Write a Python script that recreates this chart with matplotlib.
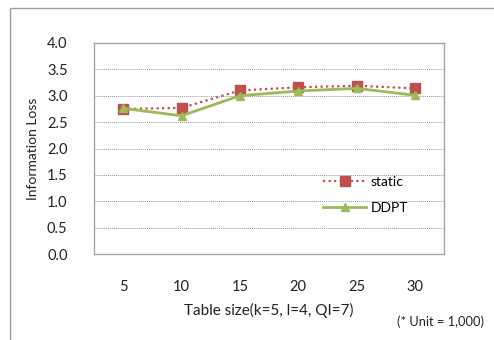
import matplotlib
matplotlib.use("Agg")
import matplotlib.pyplot as plt
from matplotlib.patches import Rectangle

categories = ["5", "10", "15", "20", "25", "30"]
static_vals = [2.75, 2.77, 3.10, 3.16, 3.19, 3.14]
ddpt_vals = [2.76, 2.62, 3.00, 3.09, 3.14, 3.01]
yticks = [0.0, 0.5, 1.0, 1.5, 2.0, 2.5, 3.0, 3.5, 4.0]

plt.rcParams['font.family'] = ['Lato', 'DejaVu Sans']

W, H = 494, 340
fig = plt.figure(figsize=(W / 100, H / 100), dpi=100)
fig.patch.set_facecolor("white")
# outer frame
fig.add_artist(Rectangle((10 / W, -0.01), 1.0, 1 - 8 / H + 0.01, transform=fig.transFigure,
                         fill=False, edgecolor="#a0a0a0", linewidth=1.0))

ax = fig.add_axes([94 / W, 1 - 254 / H, 350 / W, 211 / H])
x = list(range(len(categories)))
ax.plot(x, static_vals, color="#c0504d", linestyle=(0, (1, 1.5)), linewidth=1.6,
        marker="s", markersize=7, markerfacecolor="#c0504d", markeredgecolor="#c0504d",
        label="static", zorder=3)
ax.plot(x, ddpt_vals, color="#9bbb59", linestyle="-", linewidth=2.0,
        marker="^", markersize=6, markerfacecolor="#9bbb59", markeredgecolor="#9bbb59",
        label="DDPT", zorder=4)

ax.set_xlim(-0.5, len(categories) - 0.5)
ax.set_ylim(0, 4.0)
ax.set_xticks(x)
ax.set_xticklabels(categories)
ax.set_yticks(yticks)
ax.set_yticklabels([f"{v:.1f}" for v in yticks])
ax.tick_params(axis="both", length=0, labelsize=10.5, colors="#222222")
ax.tick_params(axis="y", pad=19)
ax.tick_params(axis="x", pad=19)
for v in yticks[1:-1]:
    ax.axhline(v, color="#999999", linestyle=(0, (1, 1)), linewidth=0.7, zorder=1)
for s in ax.spines.values():
    s.set_color("#a6a6a6")
    s.set_linewidth(1.0)

ax.set_ylabel("Information Loss", fontsize=10, color="#222222", labelpad=6)
ax.set_xlabel("Table size(k=5, l=4, QI=7)", fontsize=11, color="#222222", labelpad=6)

leg = ax.legend(loc="center left", bbox_to_anchor=(0.655, 0.28), frameon=False, fontsize=10,
                handlelength=3.1, handletextpad=0.3, labelspacing=1.0, borderaxespad=0,
                borderpad=0)

fig.text(484 / W, 1 - 322 / H, "(* Unit = 1,000)", ha="right", va="center", fontsize=9.3,
         color="#222222")

fig.savefig("out.png", dpi=100)
